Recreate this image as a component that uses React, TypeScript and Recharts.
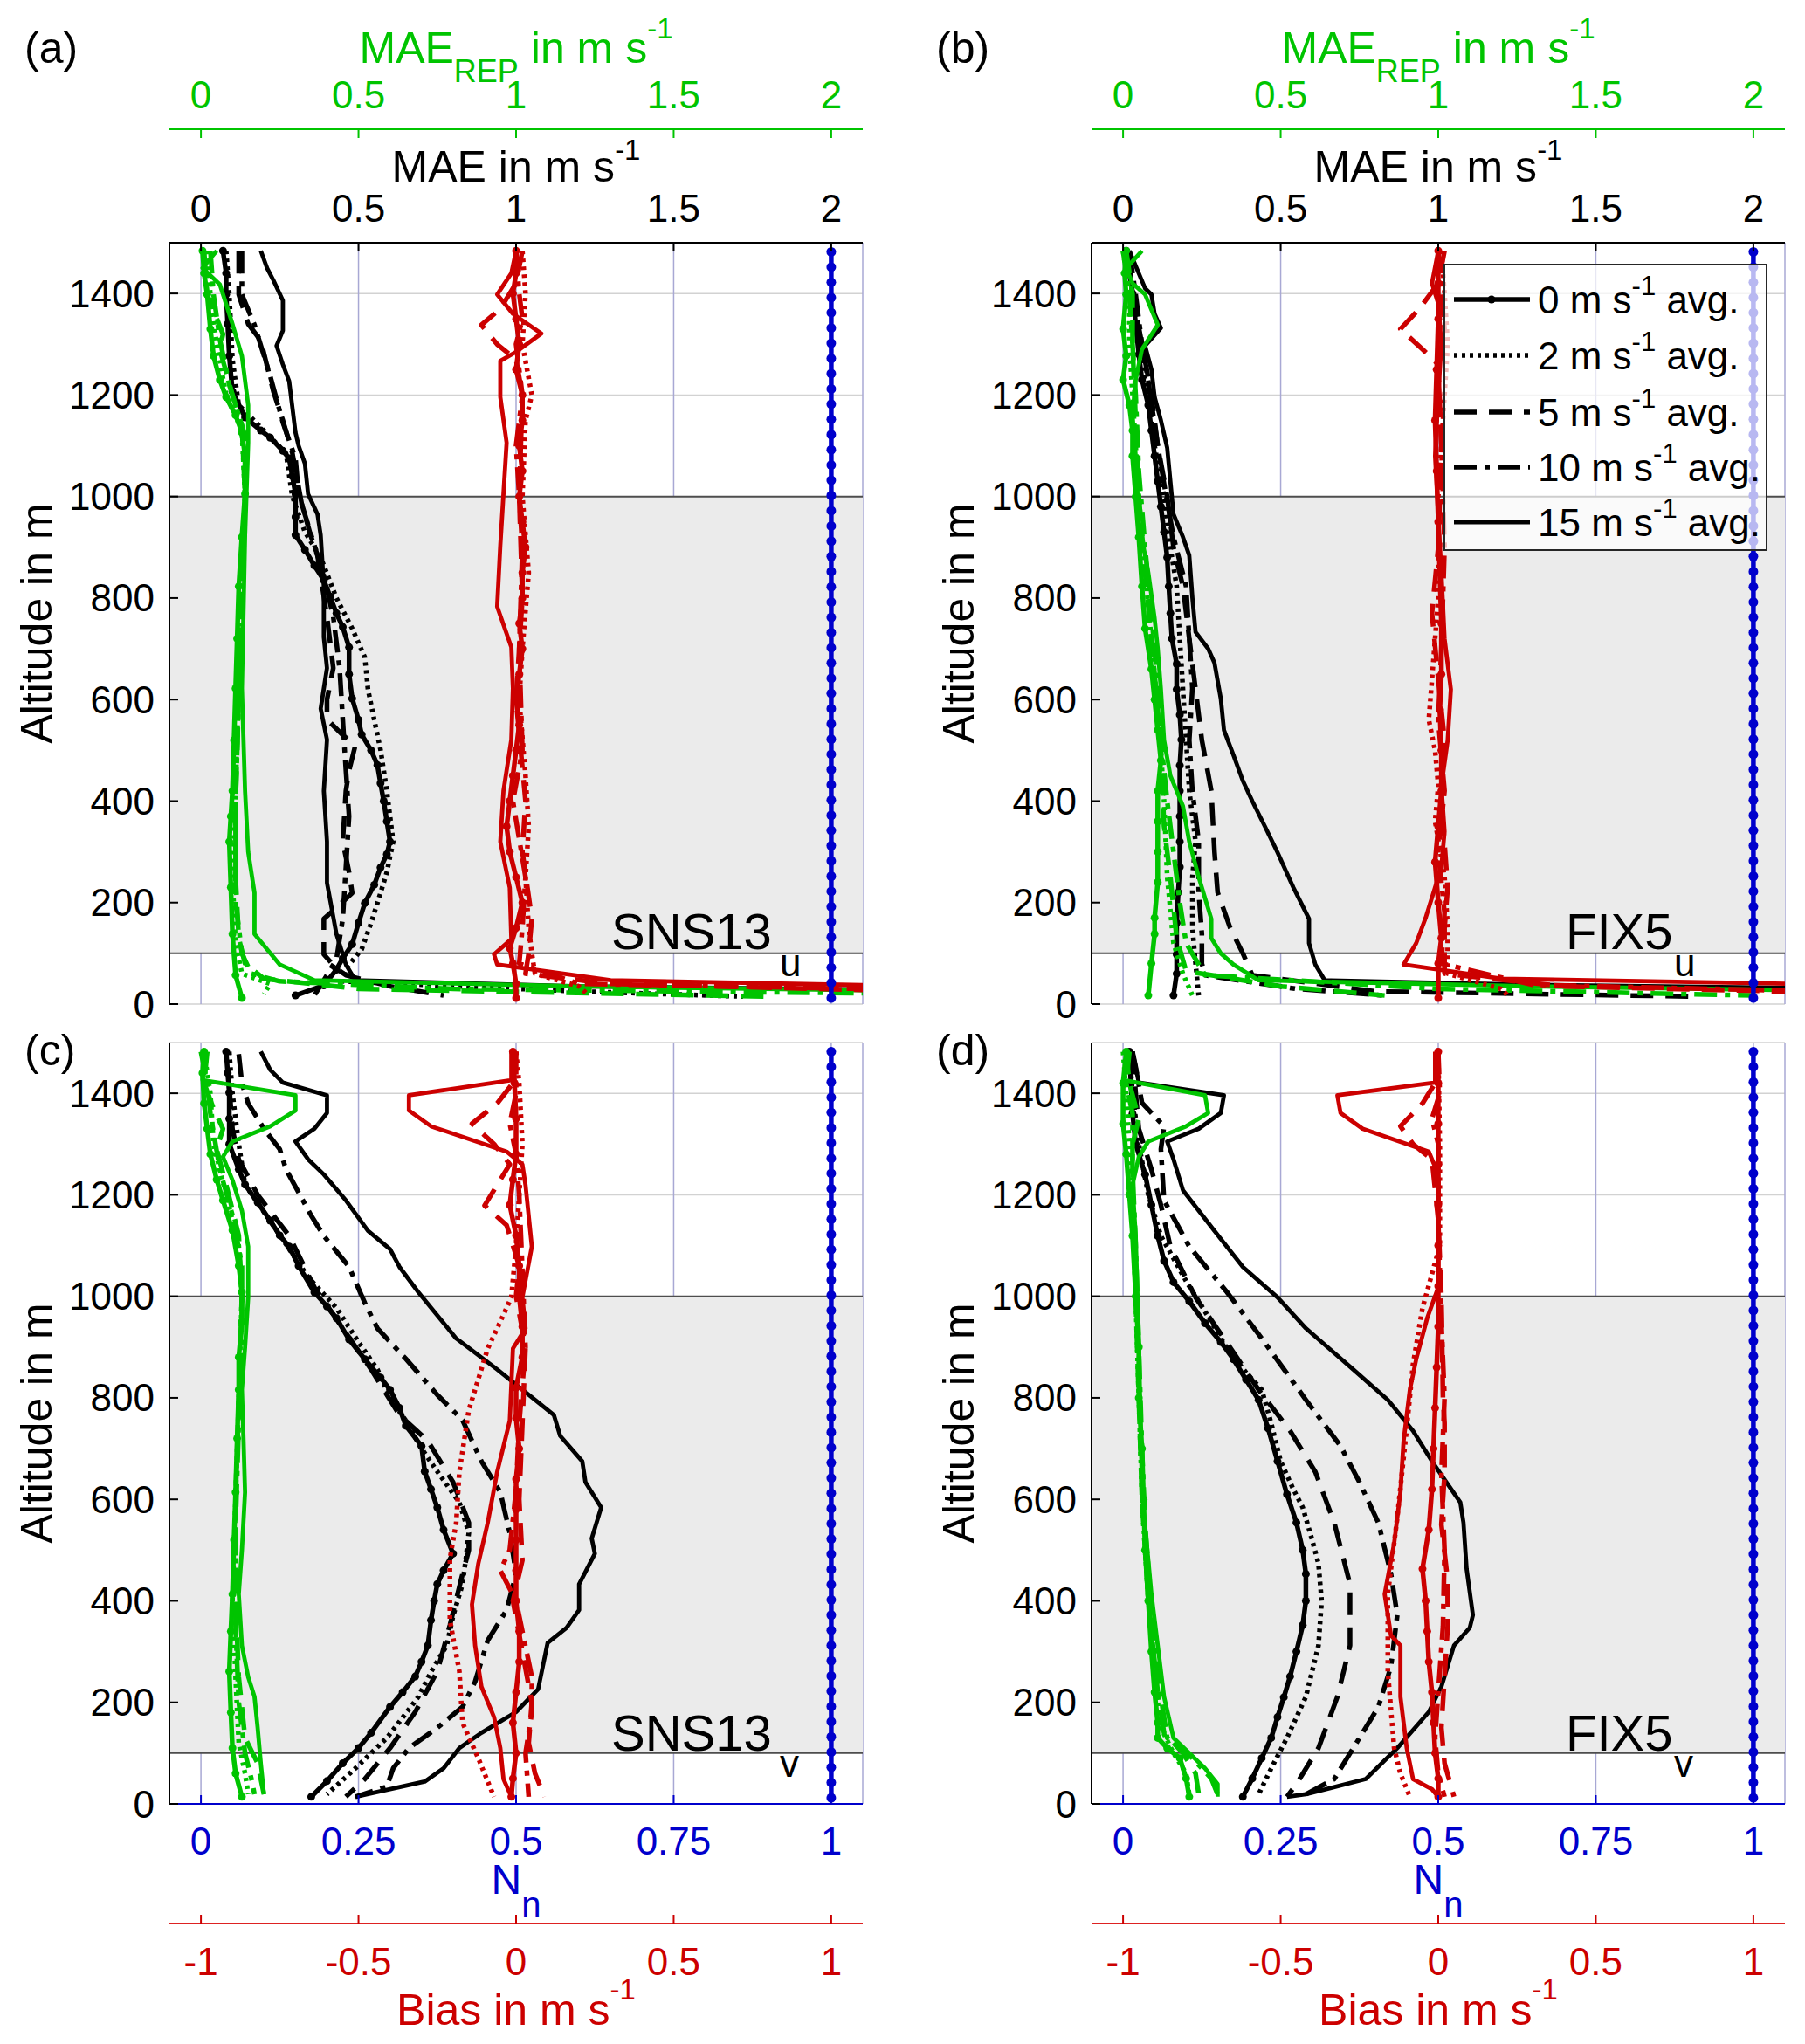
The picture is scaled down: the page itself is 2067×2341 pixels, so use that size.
import React from "react";
import {
  ComposedChart,
  Scatter,
  XAxis,
  YAxis,
  CartesianGrid,
  ReferenceArea,
  ReferenceLine,
  Legend,
} from "recharts";

type Pt = [number, number]; // [value, altitude in m]

const FONT = '"Liberation Sans", Arial, Helvetica, sans-serif';
const BLACK = "#000000";
const GREEN = "#00c400";
const RED = "#cc0000";
const BLUE = "#0000cc";

const SPEED_LABELS = ["0", "2", "5", "10", "15"];
const MAE_TICKS = [0, 0.5, 1, 1.5, 2];
const N_TICKS = [0, 0.25, 0.5, 0.75, 1];
const BIAS_TICKS = [-1, -0.5, 0, 0.5, 1];
const ALT_TICKS = [0, 200, 400, 600, 800, 1000, 1200, 1400];

// ---------- (a) SNS13 u ----------
const A_K0: Pt[] = [[0.07,1484],[0.08,1440],[0.08,1398],[0.085,1340],[0.09,1277],[0.10,1207],[0.14,1156],[0.19,1130],[0.22,1116],[0.26,1090],[0.28,1075],[0.29,1040],[0.30,1005],[0.30,960],[0.30,924],[0.33,895],[0.36,864],[0.39,835],[0.41,803],[0.43,770],[0.45,743],[0.47,703],[0.47,650],[0.48,602],[0.50,560],[0.51,531],[0.54,500],[0.56,471],[0.57,435],[0.58,400],[0.59,360],[0.60,320],[0.59,295],[0.57,269],[0.55,235],[0.52,199],[0.50,160],[0.48,118],[0.45,90],[0.43,68],[0.39,37],[0.30,17]];
const A_K2: Pt[] = [[0.08,1484],[0.09,1398],[0.10,1270],[0.12,1180],[0.20,1130],[0.27,1085],[0.29,1000],[0.33,930],[0.38,880],[0.43,800],[0.48,740],[0.52,683],[0.53,620],[0.55,560],[0.57,501],[0.59,420],[0.61,320],[0.59,260],[0.57,219],[0.54,160],[0.51,108],[0.46,70],[0.45,45],[1.2,25],[1.72,15]];
const A_K5: Pt[] = [[0.12,1484],[0.12,1398],[0.15,1340],[0.19,1307],[0.23,1207],[0.26,1150],[0.29,1086],[0.32,985],[0.35,920],[0.37,884],[0.40,763],[0.42,662],[0.40,600],[0.40,561],[0.45,530],[0.49,510],[0.47,460],[0.46,420],[0.45,320],[0.47,260],[0.48,219],[0.43,190],[0.39,168],[0.39,98],[0.43,70],[0.46,57],[0.60,35],[0.77,17]];
const A_K10: Pt[] = [[0.13,1484],[0.13,1398],[0.17,1338],[0.22,1237],[0.26,1146],[0.30,1075],[0.31,1005],[0.35,924],[0.39,844],[0.42,763],[0.44,662],[0.45,561],[0.46,461],[0.47,370],[0.46,269],[0.45,168],[0.43,88],[0.39,47],[0.36,17]];
const A_K15: Pt[] = [[0.19,1484],[0.21,1450],[0.23,1426],[0.26,1386],[0.26,1327],[0.24,1297],[0.26,1260],[0.28,1227],[0.30,1126],[0.31,1100],[0.33,1065],[0.34,1005],[0.37,965],[0.38,924],[0.39,823],[0.39,723],[0.40,662],[0.38,582],[0.40,521],[0.39,420],[0.40,320],[0.40,239],[0.43,138],[0.46,78],[0.49,47],[1.2,35],[2.4,27]];

const A_G0: Pt[] = [[0.005,1484],[0.01,1440],[0.02,1398],[0.03,1330],[0.04,1277],[0.06,1230],[0.08,1196],[0.11,1160],[0.13,1126],[0.14,1080],[0.14,1005],[0.13,920],[0.12,823],[0.115,720],[0.11,622],[0.105,520],[0.10,420],[0.095,370],[0.09,320],[0.095,230],[0.10,138],[0.11,57],[0.13,12]];
const A_G2: Pt[] = [[0.02,1484],[0.03,1398],[0.05,1300],[0.08,1200],[0.13,1130],[0.14,1000],[0.13,820],[0.12,620],[0.11,420],[0.10,250],[0.11,120],[0.13,60],[0.22,40],[0.20,20]];
const A_G5: Pt[] = [[0.01,1484],[0.02,1398],[0.07,1320],[0.06,1290],[0.10,1200],[0.14,1120],[0.14,1000],[0.13,800],[0.12,600],[0.11,400],[0.11,250],[0.12,130],[0.14,80],[0.20,50],[0.5,30],[1.8,15]];
const A_G10: Pt[] = [[0.03,1484],[0.04,1398],[0.06,1310],[0.09,1220],[0.13,1140],[0.14,1000],[0.13,800],[0.12,600],[0.11,400],[0.11,200],[0.13,100],[0.16,60],[0.25,45],[0.8,30],[2.3,20]];
const A_G15: Pt[] = [[0.05,1484],[0.005,1450],[0.06,1418],[0.10,1340],[0.13,1277],[0.15,1180],[0.15,1106],[0.14,924],[0.13,622],[0.14,420],[0.15,300],[0.17,219],[0.17,138],[0.25,78],[0.36,47],[1.2,35],[2.4,25]];

const A_R0: Pt[] = [[0.0,1484],[0.0,1440],[-0.01,1400],[0.0,1350],[0.01,1300],[0.0,1250],[0.02,1200],[0.02,1150],[0.01,1100],[0.02,1050],[0.01,1000],[0.02,950],[0.03,900],[0.02,850],[0.02,800],[0.01,750],[0.02,700],[0.01,650],[0.0,600],[0.01,550],[0.0,500],[-0.01,450],[-0.02,400],[-0.03,350],[-0.02,300],[0.0,250],[0.02,200],[0.0,150],[-0.02,110],[-0.01,80],[0.0,40],[0.0,12]];
const A_R2: Pt[] = [[0.02,1484],[0.03,1400],[0.02,1300],[0.05,1200],[0.03,1150],[0.02,1000],[0.04,850],[0.02,700],[0.01,600],[0.03,450],[0.04,350],[0.03,250],[0.04,150],[0.05,100],[0.06,60],[0.2,35],[0.23,17]];
const A_R5: Pt[] = [[0.02,1484],[0.0,1420],[-0.05,1370],[-0.11,1338],[-0.06,1300],[0.0,1270],[0.02,1200],[0.01,1000],[0.02,800],[0.0,600],[0.03,400],[0.02,300],[0.05,168],[0.04,100],[0.03,60],[0.3,40],[1.3,25]];
const A_R10: Pt[] = [[0.0,1484],[0.01,1400],[0.02,1350],[0.0,1300],[0.02,1200],[0.0,1100],[0.02,900],[0.01,700],[0.02,500],[-0.01,400],[0.03,250],[0.02,150],[0.01,80],[0.2,40],[1.3,28]];
const A_R15: Pt[] = [[0.0,1484],[-0.015,1440],[-0.06,1398],[-0.01,1360],[0.08,1321],[0.0,1285],[-0.05,1267],[-0.05,1196],[-0.03,1106],[-0.04,1005],[-0.05,904],[-0.06,783],[-0.015,703],[-0.01,622],[-0.015,521],[-0.04,420],[-0.05,320],[-0.02,229],[-0.015,128],[-0.07,98],[-0.06,78],[0.3,47],[1.3,35]];

// ---------- (b) FIX5 u ----------
const B_K0: Pt[] = [[0.01,1484],[0.02,1440],[0.03,1400],[0.04,1340],[0.05,1280],[0.06,1230],[0.08,1180],[0.09,1130],[0.10,1080],[0.11,1030],[0.12,980],[0.13,930],[0.14,880],[0.145,823],[0.15,770],[0.155,720],[0.17,670],[0.17,620],[0.18,570],[0.185,521],[0.18,470],[0.18,420],[0.18,370],[0.18,320],[0.18,270],[0.175,220],[0.17,160],[0.17,98],[0.17,60],[0.16,17]];
const B_K2: Pt[] = [[0.01,1484],[0.03,1400],[0.05,1300],[0.08,1200],[0.10,1100],[0.13,1000],[0.15,900],[0.17,823],[0.18,720],[0.19,620],[0.20,521],[0.21,420],[0.23,320],[0.22,250],[0.22,150],[0.23,80],[0.24,17]];
const B_K5: Pt[] = [[0.02,1484],[0.03,1400],[0.06,1300],[0.09,1200],[0.11,1100],[0.14,1000],[0.16,900],[0.19,823],[0.21,720],[0.23,620],[0.25,520],[0.28,420],[0.29,300],[0.30,220],[0.34,150],[0.38,100],[0.41,57],[0.8,25],[1.8,15]];
const B_K10: Pt[] = [[0.02,1484],[0.04,1398],[0.06,1300],[0.08,1227],[0.11,1100],[0.13,1025],[0.16,920],[0.20,823],[0.21,720],[0.22,622],[0.21,520],[0.22,420],[0.24,320],[0.24,220],[0.25,138],[0.25,80],[0.26,57],[0.55,30],[0.83,17]];
const B_K15: Pt[] = [[0.02,1484],[0.07,1410],[0.09,1398],[0.10,1360],[0.12,1332],[0.07,1297],[0.09,1250],[0.10,1196],[0.12,1150],[0.14,1096],[0.15,1030],[0.16,965],[0.19,920],[0.21,884],[0.22,800],[0.23,733],[0.27,700],[0.29,672],[0.31,602],[0.32,540],[0.35,491],[0.38,440],[0.41,400],[0.45,350],[0.49,299],[0.54,230],[0.59,168],[0.59,120],[0.61,78],[0.64,47],[1.3,38],[2.4,30]];

const B_G0: Pt[] = [[0.01,1484],[0.005,1440],[0.01,1398],[0.0,1330],[0.01,1277],[0.0,1230],[0.02,1180],[0.03,1130],[0.03,1080],[0.04,1000],[0.05,920],[0.06,823],[0.07,740],[0.09,660],[0.10,600],[0.11,540],[0.12,480],[0.11,420],[0.11,360],[0.11,300],[0.11,240],[0.10,170],[0.10,138],[0.09,80],[0.08,17]];
const B_G2: Pt[] = [[0.0,1484],[0.02,1398],[0.02,1300],[0.03,1200],[0.04,1100],[0.05,1000],[0.07,850],[0.10,650],[0.12,500],[0.13,400],[0.14,250],[0.16,120],[0.19,60],[0.22,17]];
const B_G5: Pt[] = [[0.01,1484],[0.03,1398],[0.03,1300],[0.04,1150],[0.05,1000],[0.07,850],[0.10,650],[0.12,500],[0.13,350],[0.15,250],[0.17,130],[0.20,65],[0.5,35],[0.83,17]];
const B_G10: Pt[] = [[0.0,1484],[0.02,1398],[0.03,1300],[0.04,1200],[0.05,1050],[0.07,900],[0.10,700],[0.12,520],[0.14,400],[0.16,300],[0.18,200],[0.20,120],[0.26,57],[1.0,30],[2.0,17]];
const B_G15: Pt[] = [[0.06,1484],[0.01,1450],[0.03,1420],[0.07,1398],[0.11,1338],[0.06,1290],[0.04,1230],[0.03,1160],[0.04,1080],[0.05,950],[0.08,850],[0.10,760],[0.11,700],[0.12,620],[0.13,520],[0.15,450],[0.19,390],[0.21,320],[0.24,250],[0.28,168],[0.28,130],[0.31,100],[0.35,78],[0.43,47],[1.3,35],[2.4,25]];

const B_R0: Pt[] = [[0.0,1484],[0.0,1420],[0.0,1350],[-0.005,1250],[-0.01,1150],[-0.005,1050],[0.0,950],[0.005,850],[0.01,750],[0.01,650],[0.005,580],[0.01,500],[0.01,420],[0.0,350],[-0.01,280],[0.0,200],[0.01,130],[0.0,80],[0.0,12]];
const B_R2: Pt[] = [[0.01,1484],[0.02,1400],[0.03,1300],[0.02,1200],[0.0,1000],[0.0,800],[-0.02,640],[-0.03,560],[-0.01,500],[0.0,430],[-0.01,360],[0.02,250],[0.03,150],[0.03,60],[0.2,30],[0.22,17]];
const B_R5: Pt[] = [[0.02,1484],[0.0,1420],[-0.06,1370],[-0.12,1330],[-0.05,1290],[0.0,1260],[0.01,1100],[0.0,900],[-0.02,770],[0.0,640],[0.02,520],[0.01,400],[0.03,230],[0.02,150],[0.02,60],[0.4,35],[1.3,22]];
const B_R10: Pt[] = [[0.0,1484],[0.01,1400],[0.02,1330],[0.0,1250],[0.01,1100],[0.02,900],[0.01,700],[0.0,560],[0.02,420],[0.0,300],[0.02,180],[0.01,80],[0.3,38],[1.3,24]];
const B_R15: Pt[] = [[0.0,1484],[-0.02,1420],[0.0,1380],[0.01,1300],[0.0,1200],[-0.01,1080],[0.0,960],[0.01,850],[0.02,720],[0.04,620],[0.03,520],[0.01,430],[0.02,340],[0.01,270],[-0.02,210],[-0.04,170],[-0.07,120],[-0.11,78],[0.2,50],[1.3,38]];

// ---------- (c) SNS13 v ----------
const C_K0: Pt[] = [[0.08,1482],[0.085,1440],[0.09,1401],[0.09,1350],[0.09,1300],[0.12,1250],[0.14,1220],[0.18,1185],[0.22,1149],[0.25,1120],[0.28,1098],[0.31,1060],[0.36,1008],[0.40,980],[0.43,957],[0.47,915],[0.52,876],[0.57,840],[0.60,816],[0.63,780],[0.65,745],[0.70,705],[0.71,655],[0.73,620],[0.75,584],[0.77,540],[0.80,493],[0.77,460],[0.75,433],[0.74,400],[0.73,362],[0.72,312],[0.70,280],[0.68,251],[0.64,220],[0.60,191],[0.54,140],[0.50,110],[0.45,80],[0.40,45],[0.35,14]];
const C_K2: Pt[] = [[0.09,1482],[0.10,1400],[0.12,1300],[0.14,1220],[0.23,1139],[0.34,1038],[0.43,977],[0.50,910],[0.56,856],[0.60,800],[0.65,755],[0.70,700],[0.75,655],[0.82,594],[0.85,534],[0.84,480],[0.83,433],[0.80,370],[0.78,312],[0.73,260],[0.69,211],[0.64,170],[0.59,130],[0.54,100],[0.49,70],[0.40,19]];
const C_K5: Pt[] = [[0.09,1413],[0.10,1330],[0.12,1270],[0.18,1200],[0.28,1119],[0.36,1018],[0.45,937],[0.54,856],[0.63,766],[0.72,715],[0.80,634],[0.85,554],[0.85,500],[0.83,453],[0.79,352],[0.75,261],[0.68,181],[0.60,110],[0.52,49],[0.46,14]];
const C_K10: Pt[] = [[0.12,1477],[0.13,1420],[0.15,1380],[0.20,1330],[0.25,1290],[0.27,1250],[0.35,1159],[0.39,1119],[0.47,1058],[0.52,987],[0.56,937],[0.65,877],[0.75,806],[0.83,756],[0.89,675],[0.95,614],[0.98,534],[1.00,453],[0.97,382],[0.91,322],[0.87,241],[0.83,191],[0.75,150],[0.66,110],[0.61,70],[0.59,34],[0.49,14]];
const C_K15: Pt[] = [[0.19,1482],[0.22,1446],[0.26,1421],[0.40,1396],[0.40,1361],[0.36,1330],[0.30,1305],[0.34,1270],[0.39,1240],[0.46,1189],[0.53,1129],[0.60,1093],[0.63,1058],[0.69,1008],[0.81,917],[0.94,856],[1.04,806],[1.12,766],[1.14,725],[1.21,675],[1.22,634],[1.27,584],[1.24,523],[1.25,493],[1.20,433],[1.20,382],[1.16,347],[1.10,317],[1.07,226],[1.00,181],[0.89,140],[0.82,110],[0.77,70],[0.71,44],[0.49,14]];

const C_G0: Pt[] = [[0.01,1482],[0.005,1440],[0.01,1380],[0.02,1330],[0.03,1280],[0.05,1230],[0.07,1189],[0.10,1130],[0.12,1060],[0.13,1008],[0.13,950],[0.12,880],[0.12,816],[0.115,720],[0.11,614],[0.105,520],[0.10,413],[0.095,340],[0.09,261],[0.095,180],[0.10,110],[0.11,60],[0.13,14]];
const C_G2: Pt[] = [[0.01,1482],[0.03,1400],[0.04,1300],[0.08,1200],[0.12,1100],[0.13,1000],[0.12,800],[0.11,600],[0.10,400],[0.11,250],[0.12,120],[0.14,60],[0.15,19]];
const C_G5: Pt[] = [[0.02,1482],[0.01,1420],[0.04,1370],[0.07,1330],[0.05,1290],[0.08,1220],[0.12,1120],[0.13,1000],[0.12,800],[0.11,600],[0.11,400],[0.12,250],[0.14,130],[0.18,80],[0.20,19]];
const C_G10: Pt[] = [[0.0,1482],[0.02,1420],[0.03,1360],[0.06,1250],[0.10,1160],[0.13,1060],[0.13,950],[0.12,750],[0.11,550],[0.11,350],[0.12,200],[0.14,100],[0.16,50],[0.17,19]];
const C_G15: Pt[] = [[0.01,1482],[0.005,1426],[0.30,1396],[0.30,1366],[0.22,1335],[0.10,1305],[0.07,1275],[0.10,1229],[0.13,1169],[0.15,1098],[0.15,998],[0.14,900],[0.13,816],[0.135,720],[0.14,614],[0.13,500],[0.12,413],[0.13,312],[0.15,250],[0.17,211],[0.18,150],[0.19,80],[0.20,19]];

const C_R0: Pt[] = [[-0.01,1482],[-0.005,1420],[0.0,1350],[0.0,1280],[-0.01,1230],[-0.02,1180],[0.0,1120],[0.01,1060],[0.01,1000],[0.02,940],[0.02,880],[0.0,820],[0.0,760],[0.01,700],[0.0,640],[0.0,580],[0.0,520],[0.0,460],[0.0,400],[0.01,340],[0.01,280],[0.0,220],[-0.01,160],[0.0,100],[-0.01,50],[-0.015,14]];
const C_R2: Pt[] = [[0.0,1482],[0.01,1420],[0.02,1300],[0.01,1200],[0.0,1100],[-0.015,998],[-0.05,950],[-0.09,897],[-0.15,776],[-0.18,654],[-0.19,554],[-0.21,483],[-0.21,420],[-0.21,362],[-0.18,261],[-0.17,160],[-0.12,90],[-0.07,14]];
const C_R5: Pt[] = [[0.0,1482],[-0.01,1420],[-0.06,1380],[-0.14,1340],[-0.07,1300],[-0.02,1260],[-0.10,1179],[-0.03,1140],[0.01,1060],[0.0,1000],[0.03,900],[0.02,750],[0.01,600],[0.02,480],[-0.01,400],[0.02,300],[0.05,200],[0.04,120],[0.06,60],[0.09,14]];
const C_R10: Pt[] = [[0.0,1482],[0.0,1400],[-0.02,1340],[0.0,1280],[0.01,1200],[0.02,1050],[0.03,900],[0.01,750],[0.0,620],[-0.02,500],[-0.05,460],[0.0,400],[0.05,250],[0.05,180],[0.03,100],[0.04,14]];
const C_R15: Pt[] = [[-0.015,1482],[-0.015,1426],[-0.34,1396],[-0.34,1366],[-0.27,1335],[-0.03,1285],[0.02,1260],[0.03,1219],[0.05,1098],[0.02,998],[0.03,937],[-0.01,897],[-0.02,755],[-0.06,654],[-0.09,554],[-0.12,473],[-0.14,393],[-0.13,312],[-0.11,231],[-0.07,171],[-0.05,110],[-0.04,49],[-0.015,14]];

// ---------- (d) FIX5 v ----------
const D_K0: Pt[] = [[0.02,1482],[0.025,1420],[0.03,1360],[0.04,1300],[0.07,1240],[0.09,1180],[0.11,1119],[0.13,1070],[0.16,1028],[0.21,990],[0.26,947],[0.31,910],[0.35,876],[0.39,836],[0.43,796],[0.46,740],[0.49,675],[0.52,610],[0.55,554],[0.57,500],[0.58,453],[0.58,400],[0.57,352],[0.55,300],[0.53,251],[0.51,210],[0.49,171],[0.47,130],[0.44,90],[0.41,50],[0.38,14]];
const D_K2: Pt[] = [[0.02,1482],[0.03,1400],[0.05,1300],[0.08,1200],[0.12,1119],[0.20,1030],[0.27,960],[0.33,897],[0.39,850],[0.44,816],[0.47,750],[0.50,675],[0.54,620],[0.57,584],[0.60,520],[0.62,473],[0.63,400],[0.62,312],[0.58,211],[0.52,130],[0.47,70],[0.43,19]];
const D_K5: Pt[] = [[0.03,1482],[0.04,1400],[0.05,1330],[0.09,1250],[0.12,1180],[0.15,1098],[0.23,998],[0.32,917],[0.43,816],[0.53,735],[0.61,654],[0.67,554],[0.72,433],[0.72,380],[0.72,312],[0.68,211],[0.62,110],[0.55,39],[0.52,14]];
const D_K10: Pt[] = [[0.03,1482],[0.04,1452],[0.06,1381],[0.13,1335],[0.12,1290],[0.13,1189],[0.21,1098],[0.33,1008],[0.44,917],[0.58,796],[0.69,705],[0.75,634],[0.81,554],[0.85,453],[0.87,372],[0.85,271],[0.81,191],[0.75,130],[0.67,49],[0.58,19]];
const D_K15: Pt[] = [[0.03,1482],[0.04,1452],[0.05,1421],[0.32,1396],[0.31,1361],[0.24,1330],[0.14,1305],[0.16,1270],[0.19,1209],[0.29,1129],[0.38,1058],[0.49,998],[0.58,937],[0.73,856],[0.84,796],[0.92,735],[0.98,675],[1.07,594],[1.08,554],[1.09,463],[1.11,372],[1.10,347],[1.05,312],[1.01,231],[0.97,181],[0.87,110],[0.77,49],[0.58,19],[0.52,14]];

const D_G0: Pt[] = [[0.01,1482],[0.0,1420],[0.0,1340],[0.01,1280],[0.02,1200],[0.03,1119],[0.04,1000],[0.05,900],[0.05,800],[0.06,700],[0.065,600],[0.07,500],[0.08,400],[0.09,300],[0.10,220],[0.11,160],[0.11,130],[0.14,110],[0.18,90],[0.20,50],[0.21,14]];
const D_G2: Pt[] = [[0.0,1482],[0.01,1400],[0.02,1300],[0.03,1150],[0.04,1000],[0.05,800],[0.06,600],[0.08,400],[0.10,250],[0.12,150],[0.16,100],[0.20,60],[0.21,19]];
const D_G5: Pt[] = [[0.01,1482],[0.02,1420],[0.05,1350],[0.03,1300],[0.03,1200],[0.04,1000],[0.05,800],[0.06,600],[0.08,400],[0.11,220],[0.13,140],[0.19,100],[0.23,60],[0.24,19]];
const D_G10: Pt[] = [[0.02,1482],[0.01,1420],[0.03,1360],[0.03,1250],[0.04,1100],[0.05,900],[0.06,700],[0.07,550],[0.09,380],[0.11,250],[0.14,130],[0.22,90],[0.28,50],[0.30,19]];
const D_G15: Pt[] = [[0.02,1482],[0.003,1426],[0.26,1396],[0.27,1361],[0.20,1335],[0.08,1305],[0.05,1275],[0.03,1219],[0.04,1119],[0.05,917],[0.06,614],[0.09,413],[0.13,211],[0.16,130],[0.26,70],[0.30,39],[0.30,14]];

const D_R0: Pt[] = [[0.0,1482],[0.0,1420],[0.0,1340],[0.0,1260],[0.0,1180],[0.0,1100],[0.0,1020],[0.0,940],[-0.005,860],[-0.01,780],[-0.015,700],[-0.02,620],[-0.03,540],[-0.05,463],[-0.04,400],[-0.035,340],[-0.03,280],[-0.02,220],[-0.015,160],[-0.01,100],[0.0,50],[0.0,14]];
const D_R2: Pt[] = [[0.0,1482],[0.005,1300],[0.005,1100],[-0.05,977],[-0.08,866],[-0.10,740],[-0.13,564],[-0.16,413],[-0.16,261],[-0.14,110],[-0.12,60],[-0.09,14]];
const D_R5: Pt[] = [[0.0,1482],[-0.01,1420],[-0.05,1380],[-0.12,1335],[-0.08,1300],[-0.02,1270],[0.0,1150],[0.01,1000],[0.015,800],[0.02,750],[0.02,650],[0.01,550],[0.03,440],[0.03,350],[0.02,250],[0.01,150],[0.02,80],[0.05,14]];
const D_R10: Pt[] = [[0.0,1482],[0.005,1400],[-0.02,1350],[0.0,1300],[0.0,1150],[0.01,950],[0.02,800],[0.01,650],[0.02,500],[0.015,350],[0.0,220],[-0.01,130],[0.0,60],[0.02,14]];
const D_R15: Pt[] = [[-0.01,1482],[-0.01,1421],[-0.32,1396],[-0.31,1361],[-0.24,1330],[-0.03,1285],[0.0,1240],[0.0,1018],[-0.035,957],[-0.07,876],[-0.09,816],[-0.11,715],[-0.12,614],[-0.14,513],[-0.17,413],[-0.15,332],[-0.12,312],[-0.12,211],[-0.10,110],[-0.08,49],[-0.02,29],[0.0,14]];

// N_n is 1 at every level in all four panels
const N_PROFILE: Pt[] = [[1,12],[1,42],[1,72],[1,102],[1,132],[1,162],[1,192],[1,222],[1,252],[1,282],[1,312],[1,342],[1,372],[1,402],[1,432],[1,462],[1,492],[1,522],[1,552],[1,582],[1,612],[1,642],[1,672],[1,702],[1,732],[1,762],[1,792],[1,822],[1,852],[1,882],[1,912],[1,942],[1,972],[1,1002],[1,1032],[1,1062],[1,1092],[1,1122],[1,1152],[1,1182],[1,1212],[1,1242],[1,1272],[1,1302],[1,1332],[1,1362],[1,1392],[1,1422],[1,1452],[1,1482]];

const PANELS = {
  a: { black: [A_K0, A_K2, A_K5, A_K10, A_K15], green: [A_G0, A_G2, A_G5, A_G10, A_G15], red: [A_R0, A_R2, A_R5, A_R10, A_R15] },
  b: { black: [B_K0, B_K2, B_K5, B_K10, B_K15], green: [B_G0, B_G2, B_G5, B_G10, B_G15], red: [B_R0, B_R2, B_R5, B_R10, B_R15] },
  c: { black: [C_K0, C_K2, C_K5, C_K10, C_K15], green: [C_G0, C_G2, C_G5, C_G10, C_G15], red: [C_R0, C_R2, C_R5, C_R10, C_R15] },
  d: { black: [D_K0, D_K2, D_K5, D_K10, D_K15], green: [D_G0, D_G2, D_G5, D_G10, D_G15], red: [D_R0, D_R2, D_R5, D_R10, D_R15] },
};

// line style per averaging speed: 0, 2, 5, 10, 15 m/s
const STYLES = [
  { dash: undefined, width: 5.5, dot: 4.5 },
  { dash: "4 5", width: 5.5, dot: 0 },
  { dash: "26 14", width: 5.5, dot: 0 },
  { dash: "26 9 6 9", width: 5.5, dot: 0 },
  { dash: undefined, width: 4.8, dot: 0 },
];

const toRows = (pts: Pt[]) => pts.map(([v, alt]) => ({ v, alt }));

function profile(key: string, pts: Pt[], axis: string, color: string, s: any) {
  const shape = s.dot
    ? (p: any) => <circle cx={p.cx} cy={p.cy} r={s.dot} fill={color} />
    : () => <g />;
  return (
    <Scatter
      key={key}
      data={toRows(pts)}
      xAxisId={axis}
      fill={color}
      line={{ stroke: color, strokeWidth: s.width, strokeDasharray: s.dash, strokeLinejoin: "round" }}
      lineType="joint"
      shape={shape}
      legendType="none"
      isAnimationActive={false}
    />
  );
}

const xTick = (col: string, dir: "up" | "down", dy: number, show: boolean) => (p: any) => (
  <g>
    <line x1={p.x} x2={p.x} y1={p.y} y2={dir === "down" ? p.y + 10 : p.y - 10} stroke={col} strokeWidth={2} />
    {show && (
      <text x={p.x} y={p.y + dy} textAnchor="middle" dominantBaseline="central" fontSize={44} fontFamily={FONT} fill={col}>
        {String(p.payload.value)}
      </text>
    )}
  </g>
);

const yTick = (p: any) => (
  <g>
    <line x1={p.x} x2={p.x + 10} y1={p.y} y2={p.y} stroke="#000" strokeWidth={2} />
    <text x={p.x - 17} y={p.y} textAnchor="end" dominantBaseline="central" fontSize={44} fontFamily={FONT} fill="#000">
      {String(p.payload.value)}
    </text>
  </g>
);

const vbOf = (p: any) => p.viewBox || { x: p.x, y: p.y, width: p.width, height: p.height };

const maeTitle = (p: any) => {
  const vb = vbOf(p);
  return (
    <text x={vb.x + vb.width / 2} y={vb.y + 60} textAnchor="middle" fontSize={50} fontFamily={FONT} fill="#000">
      MAE in m s<tspan dy={-25} fontSize={33}>-1</tspan>
    </text>
  );
};
const repTitle = (p: any) => {
  const vb = vbOf(p);
  return (
    <text x={vb.x + vb.width / 2} y={vb.y + 52} textAnchor="middle" fontSize={50} fontFamily={FONT} fill={GREEN}>
      MAE<tspan dy={22} fontSize={36}>REP</tspan>
      <tspan dy={-22}> in m s</tspan>
      <tspan dy={-28} fontSize={33}>-1</tspan>
    </text>
  );
};
const nTitle = (p: any) => {
  const vb = vbOf(p);
  return (
    <text x={vb.x + vb.width / 2} y={vb.y + 103} textAnchor="middle" fontSize={48} fontFamily={FONT} fill={BLUE}>
      N<tspan dy={26} fontSize={40}>n</tspan>
    </text>
  );
};
const biasTitle = (p: any) => {
  const vb = vbOf(p);
  return (
    <text x={vb.x + vb.width / 2} y={vb.y + 116} textAnchor="middle" fontSize={50} fontFamily={FONT} fill={RED}>
      Bias in m s<tspan dy={-29} fontSize={33}>-1</tspan>
    </text>
  );
};
const altTitle = (p: any) => {
  const vb = vbOf(p);
  const cy = vb.y + vb.height / 2;
  return (
    <text x={42} y={cy} transform={`rotate(-90 42 ${cy})`} textAnchor="middle" dominantBaseline="central" fontSize={50} fontFamily={FONT} fill="#000">
      Altitude in m
    </text>
  );
};

const LEGEND_ROWS = [41, 105, 170, 233, 296];
const legendContent = () => (
  <svg width={371} height={329} style={{ display: "block" }}>
    <rect x={1} y={1} width={369} height={327} fill="#ffffff" fillOpacity={0.72} stroke="#262626" strokeWidth={2} />
    {SPEED_LABELS.map((s, i) => {
      const cy = LEGEND_ROWS[i];
      const st = STYLES[i];
      return (
        <g key={s}>
          <line x1={12} x2={99} y1={cy} y2={cy} stroke="#000" strokeWidth={st.width} strokeDasharray={st.dash} />
          {st.dot ? <circle cx={55} cy={cy} r={st.dot} fill="#000" /> : null}
          <text x={108} y={cy + 16} fontSize={44} fontFamily={FONT} fill="#000">
            {s} m s<tspan dy={-21} fontSize={31}>-1</tspan>
            <tspan dy={21}> avg.</tspan>
          </text>
        </g>
      );
    })}
  </svg>
);

// axis ids are chosen so the axis next to the plot comes first
function Panel({ id, top, right }: { id: "a" | "b" | "c" | "d"; top: boolean; right: boolean }) {
  const p = PANELS[id];
  const width = right ? 1011 : 1034;
  const height = top ? 1190 : 1191;
  const margin = { top: top ? 20 : 44, right: right ? 23 : 46, bottom: top ? 40 : 8, left: 10 };
  return (
    <ComposedChart width={width} height={height} margin={margin}>
      <ReferenceArea xAxisId="t1mae" y1={100} y2={1000} fill="#ebebeb" fillOpacity={1} stroke="none" />
      <CartesianGrid xAxisId="b1n" vertical={false} stroke="#d2d2d2" strokeWidth={1.5} />
      <CartesianGrid xAxisId="b1n" horizontal={false} stroke="#a8a8d4" strokeWidth={1.5} />
      <ReferenceLine xAxisId="t1mae" y={100} stroke="#4d4d4d" strokeWidth={2} />
      <ReferenceLine xAxisId="t1mae" y={1000} stroke="#4d4d4d" strokeWidth={2} />
      <XAxis
        xAxisId="t1mae"
        type="number"
        dataKey="v"
        orientation="top"
        domain={[-0.1, 2.1]}
        allowDataOverflow
        ticks={MAE_TICKS}
        interval={0}
        height={top ? 130 : 0}
        tickSize={0}
        tickMargin={0}
        tickLine={false}
        axisLine={{ stroke: "#000", strokeWidth: 2 }}
        tick={xTick("#000", "down", -40, top)}
        label={top ? { content: maeTitle } : undefined}
      />
      <XAxis
        xAxisId="t2rep"
        type="number"
        dataKey="v"
        orientation="top"
        domain={[-0.1, 2.1]}
        allowDataOverflow
        hide={!top}
        ticks={MAE_TICKS}
        interval={0}
        height={128}
        tickSize={0}
        tickMargin={0}
        tickLine={false}
        axisLine={{ stroke: GREEN, strokeWidth: 2 }}
        tick={xTick(GREEN, "down", -40, true)}
        label={{ content: repTitle }}
      />
      <XAxis
        xAxisId="b1n"
        type="number"
        dataKey="v"
        orientation="bottom"
        domain={[-0.05, 1.05]}
        allowDataOverflow
        ticks={N_TICKS}
        interval={0}
        height={top ? 0 : 137}
        tickSize={0}
        tickMargin={0}
        tickLine={false}
        axisLine={{ stroke: BLUE, strokeWidth: 2 }}
        tick={xTick(BLUE, "up", 42, !top)}
        label={top ? undefined : { content: nTitle }}
      />
      <XAxis
        xAxisId="b2bias"
        type="number"
        dataKey="v"
        orientation="bottom"
        domain={[-1.1, 1.1]}
        allowDataOverflow
        hide={top}
        ticks={BIAS_TICKS}
        interval={0}
        height={130}
        tickSize={0}
        tickMargin={0}
        tickLine={false}
        axisLine={{ stroke: "#dd2222", strokeWidth: 2 }}
        tick={xTick(RED, "up", 43, true)}
        label={{ content: biasTitle }}
      />
      <YAxis
        type="number"
        dataKey="alt"
        domain={[0, 1500]}
        allowDataOverflow
        ticks={ALT_TICKS}
        interval={0}
        width={184}
        tickSize={0}
        tickMargin={0}
        tickLine={false}
        axisLine={{ stroke: "#000", strokeWidth: 2 }}
        tick={yTick}
        label={{ content: altTitle }}
      />
      {p.black.map((pts, i) => profile(`k${i}`, pts, "t1mae", BLACK, STYLES[i]))}
      {p.green.map((pts, i) => profile(`g${i}`, pts, "t2rep", GREEN, STYLES[i]))}
      {p.red.map((pts, i) => profile(`r${i}`, pts, "b2bias", RED, STYLES[i]))}
      {profile("n", N_PROFILE, "b1n", BLUE, { dash: undefined, width: 5.5, dot: 5.5 })}
      {id === "b" && (
        <Legend
          layout="vertical"
          align="center"
          verticalAlign="middle"
          content={legendContent}
          wrapperStyle={{ left: 597, top: 302, width: 371, height: 329 }}
        />
      )}
    </ComposedChart>
  );
}

function PanelTag({ x, y, main, sub, subX, subY }: any) {
  return (
    <g fontFamily={FONT} fill="#000">
      <text x={x} y={y} fontSize={58}>{main}</text>
      <text x={subX} y={subY} fontSize={44}>{sub}</text>
    </g>
  );
}

export default function App() {
  return (
    <div style={{ position: "absolute", left: 0, top: 0, width: 2067, height: 2341, background: "#fff" }}>
      <div style={{ position: "absolute", left: 0, top: 0 }}>
        <Panel id="a" top right={false} />
      </div>
      <div style={{ position: "absolute", left: 1056, top: 0 }}>
        <Panel id="b" top right />
      </div>
      <div style={{ position: "absolute", left: 0, top: 1150 }}>
        <Panel id="c" top={false} right={false} />
      </div>
      <div style={{ position: "absolute", left: 1056, top: 1150 }}>
        <Panel id="d" top={false} right />
      </div>
      <svg width={2067} height={2341} style={{ position: "absolute", left: 0, top: 0, pointerEvents: "none" }}>
        <g fontFamily={FONT} fontSize={50} fill="#000">
          <text x={28} y={72}>(a)</text>
          <text x={1072} y={72}>(b)</text>
          <text x={28} y={1220}>(c)</text>
          <text x={1072} y={1220}>(d)</text>
        </g>
        <PanelTag x={700} y={1087} main="SNS13" sub="u" subX={893} subY={1118} />
        <PanelTag x={1793} y={1087} main="FIX5" sub="u" subX={1917} subY={1118} />
        <PanelTag x={700} y={2005} main="SNS13" sub="v" subX={893} subY={2035} />
        <PanelTag x={1793} y={2005} main="FIX5" sub="v" subX={1917} subY={2035} />
      </svg>
    </div>
  );
}
